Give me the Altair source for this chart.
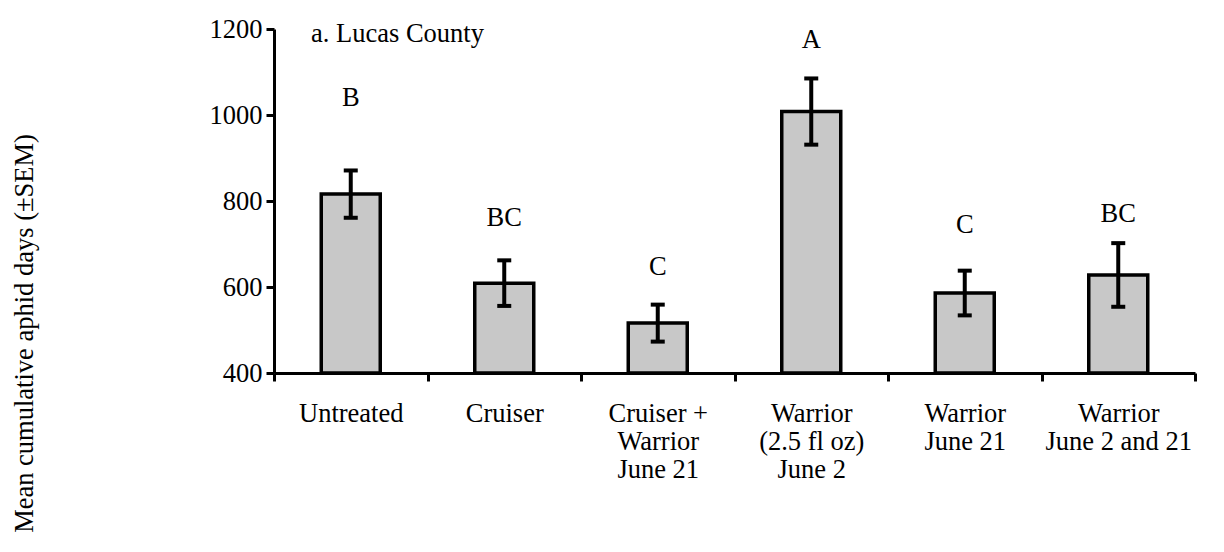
import altair as alt
import pandas as pd

categories = ["Untreated", "Cruiser", "Cruiser +|Warrior|June 21",
              "Warrior|(2.5 fl oz)|June 2", "Warrior|June 21", "Warrior|June 2 and 21"]
means = [816, 609, 516, 1008, 586, 628]
sem = [55, 53, 43, 77, 52, 74]
letters = ["B", "BC", "C", "A", "C", "BC"]
letter_y = [1040, 760, 646, 1174, 744, 770]
y_ticks = [400, 600, 800, 1000, 1200]
y_base = 400
panel_title = ["a. Lucas County"]

df = pd.DataFrame({"cat": categories, "mean": means, "sem": sem,
                   "letter": letters, "ly": letter_y})
df["lo"] = df["mean"] - df["sem"]
df["hi"] = df["mean"] + df["sem"]
df["base"] = y_base

FONT = "Liberation Serif"
FS = 26.5

x = alt.X("cat:N", sort=categories,
          scale=alt.Scale(paddingInner=0, paddingOuter=0),
          axis=alt.Axis(title=None, labelAngle=0,
                        labelExpr="split(datum.label, '|')",
                        labelFont=FONT, labelFontSize=FS, labelLineHeight=28,
                        labelColor="black", labelPadding=19,
                        tickBand="extent", tickSize=8, tickWidth=3, tickColor="black",
                        domainWidth=3, domainColor="black"))

yscale = alt.Scale(domain=[400, 1200], nice=False, zero=False)
yaxis = alt.Axis(title="Mean cumulative aphid days (±SEM)", values=y_ticks,
                 format="d", grid=False, labelFont=FONT, labelFontSize=FS,
                 labelColor="black", labelPadding=4, tickSize=8, tickWidth=3,
                 tickColor="black", domainWidth=3, domainColor="black",
                 titleFont=FONT, titleFontSize=FS, titleFontWeight="normal",
                 titleColor="black", titleX=-250, titleY=304,
                 titleAngle=270, titleBaseline="middle", titleAlign="center")

base = alt.Chart(df)

bars = base.mark_bar(size=59, fill="#c8c8c8", stroke="black", strokeWidth=3.5).encode(
    x=x, y=alt.Y("mean:Q", scale=yscale, axis=yaxis), y2="base:Q")

rules = base.mark_rule(strokeWidth=4, color="black").encode(
    x=x, y=alt.Y("lo:Q", scale=yscale), y2="hi:Q")
cap_hi = base.mark_tick(size=14, thickness=4, color="black", opacity=1).encode(
    x=x, y=alt.Y("hi:Q", scale=yscale))
cap_lo = base.mark_tick(size=14, thickness=4, color="black", opacity=1).encode(
    x=x, y=alt.Y("lo:Q", scale=yscale))
text = base.mark_text(font=FONT, fontSize=FS, color="black", baseline="middle").encode(
    x=x, y=alt.Y("ly:Q", scale=yscale), text="letter:N")

title = alt.Chart(pd.DataFrame({"t": panel_title})).mark_text(
    font=FONT, fontSize=FS, color="black", align="left", baseline="alphabetic"
).encode(x=alt.value(37), y=alt.value(13), text="t:N")

chart = alt.layer(bars, rules, cap_hi, cap_lo, text, title).properties(
    width=921, height=344,
    autosize=alt.AutoSizeParams(type="none"),
    padding={"left": 266, "top": 21, "right": 21, "bottom": 163},
).configure_view(stroke=None)

chart.save("out.html", embed_options={"renderer": "svg", "actions": False})
